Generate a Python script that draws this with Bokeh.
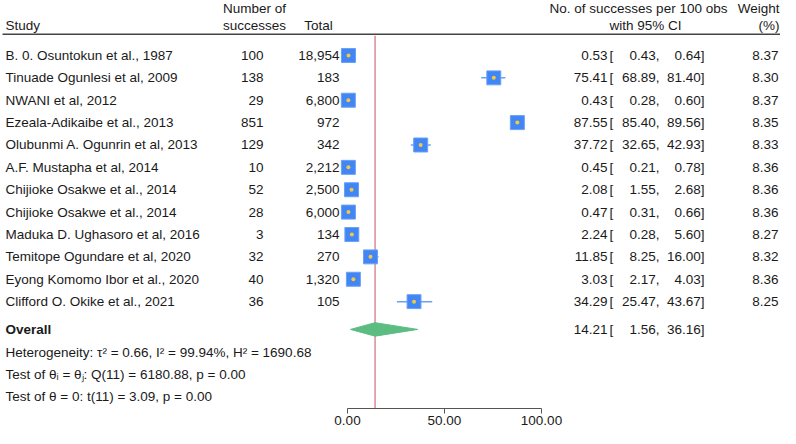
from bokeh.plotting import figure
from bokeh.models import Range1d, LinearAxis, FixedTicker, PrintfTickFormatter, ColumnDataSource
from bokeh.core.properties import value
from bokeh.embed import file_html
from bokeh.resources import INLINE

# ---------------- data ----------------
studies = [
    "B. 0. Osuntokun et al., 1987",
    "Tinuade Ogunlesi et al, 2009",
    "NWANI et al, 2012",
    "Ezeala-Adikaibe et al., 2013",
    "Olubunmi A. Ogunrin et al, 2013",
    "A.F. Mustapha et al, 2014",
    "Chijioke Osakwe et al., 2014",
    "Chijioke Osakwe et al., 2014",
    "Maduka D. Ughasoro et al, 2016",
    "Temitope Ogundare et al, 2020",
    "Eyong Komomo Ibor et al., 2020",
    "Clifford O. Okike et al., 2021",
]
successes = [100, 138, 29, 851, 129, 10, 52, 28, 3, 32, 40, 36]
totals = [18954, 183, 6800, 972, 342, 2212, 2500, 6000, 134, 270, 1320, 105]
estimate = [0.53, 75.41, 0.43, 87.55, 37.72, 0.45, 2.08, 0.47, 2.24, 11.85, 3.03, 34.29]
ci_low = [0.43, 68.89, 0.28, 85.40, 32.65, 0.21, 1.55, 0.31, 0.28, 8.25, 2.17, 25.47]
ci_high = [0.64, 81.40, 0.60, 89.56, 42.93, 0.78, 2.68, 0.66, 5.60, 16.00, 4.03, 43.67]
weights = [8.37, 8.30, 8.37, 8.35, 8.33, 8.36, 8.36, 8.36, 8.27, 8.32, 8.36, 8.25]
overall_est = 14.21
overall_low = 1.56
overall_high = 36.16
axis_ticks = [0, 50, 100]
stats_lines = [
    "Heterogeneity: \u03c4\u00b2 = 0.66, I\u00b2 = 99.94%, H\u00b2 = 1690.68",
    "Test of \u03b8\u1d62 = \u03b8\u2c7c: Q(11) = 6180.88, p = 0.00",
    "Test of \u03b8 = 0: t(11) = 3.09, p = 0.00",
]

# ---------------- layout helpers ----------------
FONT = "Liberation Sans"
FS = "13.5px"
TXT = "#1a1a1a"
W, H = 780, 428
B = 20
PX0, PXU = 347.0, 1.94          # pixel of value 0, pixels per unit


def dx(px):
    return (px - PX0) / PXU


row_y = [57 + i * 23.2 for i in range(len(studies))]
overall_y = 341
stats_y = [365, 388, 411]
header_line_y = 35
axis_y = 423

p = figure(width=W, height=H, x_range=Range1d(dx(0), dx(W)), y_range=Range1d(axis_y, 0),
           output_backend="svg", toolbar_location=None,
           x_axis_location=None, y_axis_location=None,
           min_border_left=0, min_border_right=0, min_border_top=0, min_border_bottom=B)
p.xgrid.visible = False
p.ygrid.visible = False
p.outline_line_color = None
p.background_fill_color = "white"
p.border_fill_color = "white"

ax = LinearAxis(ticker=FixedTicker(ticks=axis_ticks), formatter=PrintfTickFormatter(format="%.2f"),
                bounds=(0, 100))
ax.major_tick_out = 5
ax.major_tick_in = 0
ax.minor_tick_line_color = None
ax.axis_line_color = "#555555"
ax.major_tick_line_color = "#555555"
ax.major_label_text_font = FONT
ax.major_label_text_font_size = FS
ax.major_label_text_color = TXT
ax.major_label_standoff = 2
p.add_layout(ax, "below")


def txt(xs, ys, texts, align="left", bold=False):
    p.text(x=xs, y=ys, text=texts, text_align=align, text_baseline="middle",
           text_font=value(FONT), text_font_size=FS, text_color=TXT,
           text_font_style="bold" if bold else "normal")


# header
p.segment(x0=[dx(2)], x1=[dx(800)], y0=[header_line_y], y1=[header_line_y],
          line_color="#444444", line_width=1.5)
txt([dx(5)], [26], ["Study"])
txt([dx(254)], [8], ["Number of"], align="center")
txt([dx(254)], [26], ["successes"], align="center")
txt([dx(318)], [26], ["Total"], align="center")
txt([dx(638)], [8], ["No. of successes per 100 obs"], align="center")
txt([dx(645)], [26], ["with 95% CI"], align="center")
txt([dx(779)], [8], ["Weight"], align="right")
txt([dx(779)], [26], ["(%)"], align="right")

# reference line
p.segment(x0=[overall_est], x1=[overall_est], y0=[header_line_y + 1.5], y1=[axis_y],
          line_color="#dc8a95", line_width=1.5)

# study rows
n = len(studies)
txt([dx(5)] * n, row_y, studies)
txt([dx(263)] * n, row_y, [str(s) for s in successes], align="right")
txt([dx(339)] * n, row_y, [f"{t:,}" for t in totals], align="right")
txt([dx(607)] * n, row_y, [f"{e:.2f}" for e in estimate], align="right")
txt([dx(609)] * n, row_y, ["["] * n)
txt([dx(659)] * n, row_y, [f"{v:.2f}," for v in ci_low], align="right")
txt([dx(704)] * n, row_y, [f"{v:.2f}]" for v in ci_high], align="right")
txt([dx(778)] * n, row_y, [f"{w:.2f}" for w in weights], align="right")

src = ColumnDataSource(dict(y=row_y, est=estimate, lo=ci_low, hi=ci_high,
                            size=[14.0 * (w / max(weights)) ** 0.5 for w in weights]))
p.segment(x0="lo", x1="hi", y0="y", y1="y", source=src, line_color="#6f9ff0", line_width=1.5)
p.scatter(x="est", y="y", size="size", marker="square", source=src,
          fill_color="#4285f4", line_color="#6aa0f5", line_width=1)
p.scatter(x="est", y="y", size=4, marker="circle", source=src,
          fill_color="#f5c842", line_color=None)

# overall
txt([dx(5)], [overall_y], ["Overall"], bold=True)
txt([dx(607)], [overall_y], [f"{overall_est:.2f}"], align="right")
txt([dx(609)], [overall_y], ["["])
txt([dx(659)], [overall_y], [f"{overall_low:.2f},"], align="right")
txt([dx(704)], [overall_y], [f"{overall_high:.2f}]"], align="right")
p.patch(x=[overall_low, overall_est, overall_high, overall_est],
        y=[overall_y, overall_y - 7, overall_y, overall_y + 7],
        fill_color="#5cbd82", line_color="#5cbd82", line_width=1)

# stats
txt([dx(5)] * 3, stats_y, stats_lines)

open("out.html", "w").write(file_html(p, INLINE))
